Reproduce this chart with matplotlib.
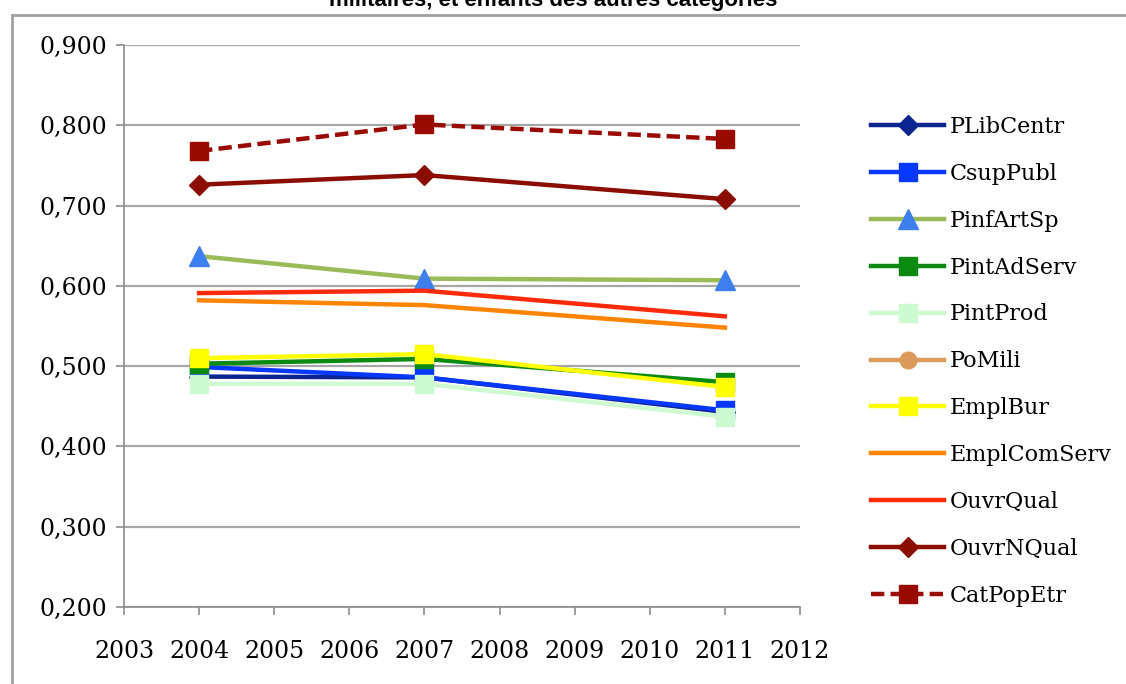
import matplotlib.pyplot as plt
import numpy as np
from matplotlib.patches import Rectangle
from matplotlib.ticker import FuncFormatter

years = [2004, 2007, 2011]

series_names = [
    "PLibCentr", "CsupPubl", "PinfArtSp", "PintAdServ", "PintProd", "PoMili",
    "EmplBur", "EmplComServ", "OuvrQual", "OuvrNQual", "CatPopEtr",
]
plib_centr = [0.487, 0.486, 0.443]
csup_publ = [0.499, 0.486, 0.445]
pinf_art_sp = [0.637, 0.609, 0.607]
pint_ad_serv = [0.503, 0.509, 0.480]
pint_prod = [0.478, 0.478, 0.437]
po_mili = [np.nan, np.nan, np.nan]
empl_bur = [0.510, 0.515, 0.474]
empl_com_serv = [0.582, 0.576, 0.548]
ouvr_qual = [0.591, 0.594, 0.562]
ouvr_nqual = [0.726, 0.738, 0.708]
cat_pop_etr = [0.768, 0.801, 0.783]

values = [
    plib_centr, csup_publ, pinf_art_sp, pint_ad_serv, pint_prod, po_mili,
    empl_bur, empl_com_serv, ouvr_qual, ouvr_nqual, cat_pop_etr,
]

# (line colour, marker, marker colour, linestyle)
styles = [
    ("#0b2590", "D", "#0b2590", "-"),
    ("#0638ff", "s", "#0638ff", "-"),
    ("#9bbb59", "^", "#3e7ff0", "-"),
    ("#0a8a10", "s", "#0a8a10", "-"),
    ("#cdfad0", "s", "#cdfad0", "-"),
    ("#dc9a5a", "o", "#dc9a5a", "-"),
    ("#ffff00", "s", "#ffff00", "-"),
    ("#ff8400", None, "#ff8400", "-"),
    ("#ff2a0a", None, "#ff2a0a", "-"),
    ("#8b0d00", "D", "#8b0d00", "-"),
    ("#990a00", "s", "#990a00", (0, (3, 1.4))),
]
marker_sizes = {"s": 12.5, "^": 14, "D": 10, "o": 12}

plt.rcParams["font.family"] = ["DejaVu Serif"]

fig = plt.figure(figsize=(11.26, 6.84), dpi=100)
ax = fig.add_axes([124 / 1126, 1 - 607 / 684, (800 - 124) / 1126, (607 - 45) / 684])

for name, vals, (color, marker, mcolor, ls) in zip(series_names, values, styles):
    ax.plot(years, vals, color=color, linewidth=3.2, linestyle=ls,
            marker=marker, markersize=marker_sizes.get(marker, 0),
            markerfacecolor=mcolor, markeredgecolor=mcolor, label=name)

ax.set_xlim(2003, 2012)
ax.set_ylim(0.2, 0.9)
ax.set_xticks(range(2003, 2013))
ax.set_yticks(np.arange(0.2, 0.901, 0.1))
ax.yaxis.set_major_formatter(FuncFormatter(lambda v, p: f"{v:.3f}".replace(".", ",")))
ax.grid(axis="y", color="#a6a6a6", linewidth=1.6)
ax.set_axisbelow(True)
for side in ["top", "right"]:
    ax.spines[side].set_visible(False)
for side in ["left", "bottom"]:
    ax.spines[side].set_color("#8c8c8c")
    ax.spines[side].set_linewidth(1.2)
ax.tick_params(axis="both", colors="#8c8c8c", labelcolor="black",
               labelsize=17, length=6, width=1.2)
ax.tick_params(axis="x", pad=18)
ax.tick_params(axis="y", pad=6)

fig.legend(loc="upper left", bbox_to_anchor=(862 / 1126, 1 - 107 / 684),
           frameon=False, fontsize=16, handlelength=3.3, handletextpad=0.25,
           labelspacing=1.12, borderaxespad=0)

# outer chart border
fig.patches.append(Rectangle((12 / 1126, -0.05), 1.1, 1 - 15 / 684 + 0.05,
                             transform=fig.transFigure, fill=False,
                             edgecolor="#a0a0a0", linewidth=2))

fig.text(553 / 1126, 1 - 6 / 684, "militaires, et enfants des autres catégories",
         ha="center", va="baseline", fontsize=16, fontweight="bold",
         family=["Liberation Sans"])

fig.savefig("out.png", dpi=100)
